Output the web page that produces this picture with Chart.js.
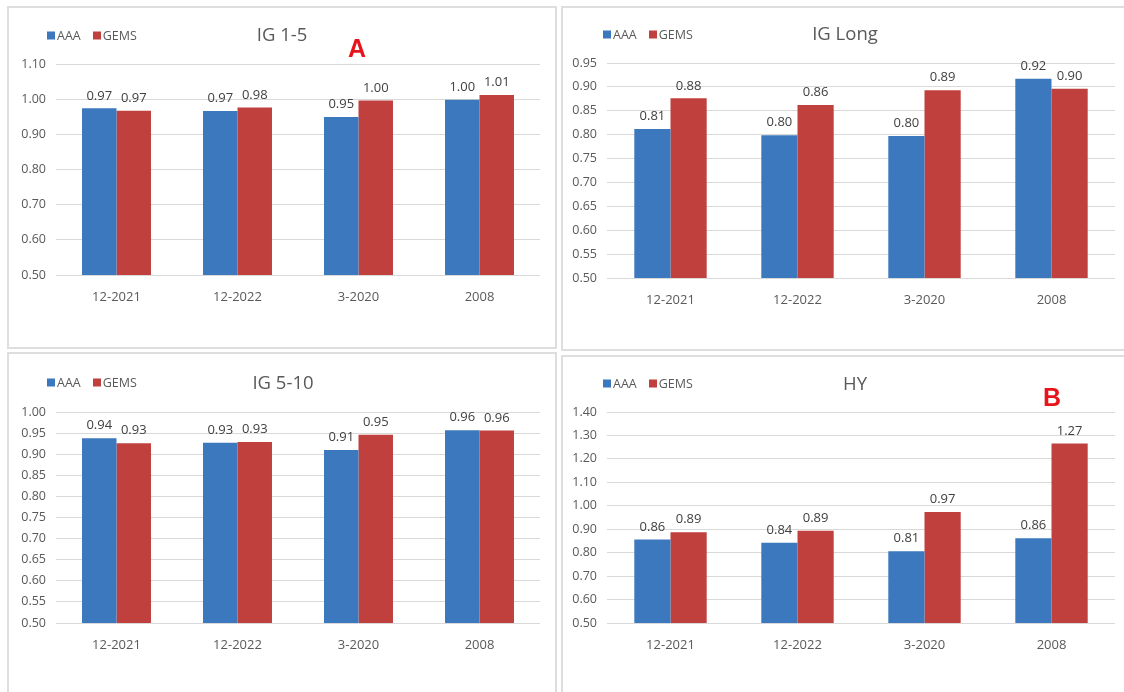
<!DOCTYPE html>
<html>
<head>
<meta charset="utf-8">
<script src="https://cdn.jsdelivr.net/npm/chart.js@4.4.1/dist/chart.umd.min.js"></script>
<style>
  html, body { margin: 0; padding: 0; background: #ffffff; }
  body { width: 1124px; height: 692px; position: relative; overflow: hidden; font-family: "Open Sans", "DejaVu Sans", sans-serif; }
  .panel { position: absolute; border: 2px solid #dedede; box-sizing: border-box; background: #fff; }
  .chart-canvas { position: absolute; }
  .title { position: absolute; font-size: 18.5px; color: #595959; transform: translate(-50%, -50%); white-space: nowrap; }
  .mark { position: absolute; font-size: 25px; font-weight: bold; color: #e8141c; transform: translate(-50%, -50%); font-family: "Liberation Sans", Arial, sans-serif; }
  .legend { position: absolute; font-size: 12.5px; color: #595959; display: flex; align-items: center; white-space: nowrap; transform: translateY(-50%); }
  .legend .sw { display: inline-block; width: 8px; height: 8px; margin-right: 2px; }
  .legend .item { display: inline-flex; align-items: center; margin-right: 12px; }
</style>
</head>
<body>

<div class="panel" style="left:7px; top:6px; width:550px; height:343px;"></div>
<div class="panel" style="left:561px; top:6px; width:570px; height:345px;"></div>
<div class="panel" style="left:7px; top:352px; width:550px; height:350px;"></div>
<div class="panel" style="left:561px; top:355px; width:570px; height:350px;"></div>

<canvas id="c1" class="chart-canvas"></canvas>
<canvas id="c2" class="chart-canvas"></canvas>
<canvas id="c3" class="chart-canvas"></canvas>
<canvas id="c4" class="chart-canvas"></canvas>

<div class="legend" style="left:47px; top:35px;"><span class="item"><span class="sw" style="background:#3b78bd"></span>AAA</span><span class="item"><span class="sw" style="background:#c0403e"></span>GEMS</span></div>
<div class="title" style="left:282px; top:33px;">IG 1-5</div>
<div class="mark" style="left:357px; top:48px;">A</div>

<div class="legend" style="left:603px; top:34px;"><span class="item"><span class="sw" style="background:#3b78bd"></span>AAA</span><span class="item"><span class="sw" style="background:#c0403e"></span>GEMS</span></div>
<div class="title" style="left:845px; top:32px;">IG Long</div>

<div class="legend" style="left:47px; top:382px;"><span class="item"><span class="sw" style="background:#3b78bd"></span>AAA</span><span class="item"><span class="sw" style="background:#c0403e"></span>GEMS</span></div>
<div class="title" style="left:283px; top:381px;">IG 5-10</div>

<div class="legend" style="left:603px; top:383px;"><span class="item"><span class="sw" style="background:#3b78bd"></span>AAA</span><span class="item"><span class="sw" style="background:#c0403e"></span>GEMS</span></div>
<div class="title" style="left:855px; top:382px;">HY</div>
<div class="mark" style="left:1052px; top:397px;">B</div>

<script>
// Periods shown on every panel
const categories = ['12-2021', '12-2022', '3-2020', '2008'];

// IG 1-5
const ig15Aaa  = [0.974, 0.966, 0.949, 0.998];
const ig15Gems = [0.967, 0.976, 0.996, 1.012];
const ig15Axis = [0.50, 1.10, 0.10];   // min, max, step

// IG Long
const igLongAaa  = [0.812, 0.799, 0.797, 0.917];
const igLongGems = [0.876, 0.862, 0.893, 0.896];
const igLongAxis = [0.50, 0.95, 0.05];

// IG 5-10
const ig510Aaa  = [0.938, 0.927, 0.910, 0.957];
const ig510Gems = [0.926, 0.929, 0.946, 0.956];
const ig510Axis = [0.50, 1.00, 0.05];

// HY
const hyAaa  = [0.856, 0.842, 0.806, 0.862];
const hyGems = [0.887, 0.893, 0.973, 1.266];
const hyAxis = [0.50, 1.40, 0.10];

const seriesNames = ['AAA', 'GEMS'];
const seriesColors = ['#3b78bd', '#c0403e'];

const FONT = '"Open Sans", "DejaVu Sans", sans-serif';
const PAD_L = 50, PAD_T = 25, PAD_R = 12, PAD_B = 30;

// Writes each bar's value just above it
const valueLabels = {
  id: 'valueLabels',
  afterDatasetsDraw(chart) {
    const ctx = chart.ctx;
    ctx.save();
    ctx.font = '13px ' + FONT;
    ctx.fillStyle = '#404040';
    ctx.textAlign = 'center';
    ctx.textBaseline = 'bottom';
    chart.data.datasets.forEach((ds, i) => {
      chart.getDatasetMeta(i).data.forEach((bar, j) => {
        ctx.fillText(ds.data[j].toFixed(2), bar.x, bar.y - 6);
      });
    });
    ctx.restore();
  }
};

function makeChart(id, plot, aaa, gems, axis) {
  const cv = document.getElementById(id);
  const w = (plot.r - plot.l) + PAD_L + PAD_R;
  const h = (plot.b - plot.t) + PAD_T + PAD_B;
  cv.width = w; cv.height = h;
  cv.style.left = (plot.l - PAD_L) + 'px';
  cv.style.top = (plot.t - PAD_T) + 'px';
  cv.style.width = w + 'px';
  cv.style.height = h + 'px';

  return new Chart(cv, {
    type: 'bar',
    data: {
      labels: categories,
      datasets: [aaa, gems].map((d, i) => ({
        label: seriesNames[i],
        data: d,
        backgroundColor: seriesColors[i],
        borderWidth: 0,
        categoryPercentage: 0.57,
        barPercentage: 1.0
      }))
    },
    options: {
      responsive: false,
      animation: false,
      devicePixelRatio: 1,
      layout: { padding: { top: PAD_T, right: PAD_R, left: 0, bottom: 0 } },
      plugins: { legend: { display: false }, title: { display: false }, tooltip: { enabled: false } },
      scales: {
        x: {
          grid: { display: false },
          border: { display: false },
          ticks: { color: '#595959', font: { family: FONT, size: 13 }, padding: 6, maxRotation: 0 },
          afterFit(s) { s.height = PAD_B; }
        },
        y: {
          min: axis[0], max: axis[1],
          grid: { color: '#d9d9d9', lineWidth: 1, drawTicks: false },
          border: { display: false },
          ticks: {
            stepSize: axis[2],
            color: '#595959',
            font: { family: FONT, size: 12.5 },
            padding: 10,
            callback: v => Number(v).toFixed(2)
          },
          afterFit(s) { s.width = PAD_L; }
        }
      }
    },
    plugins: [valueLabels]
  });
}

makeChart('c1', { l: 56, t: 64, r: 540, b: 275 }, ig15Aaa, ig15Gems, ig15Axis);
makeChart('c2', { l: 607, t: 63, r: 1115, b: 278 }, igLongAaa, igLongGems, igLongAxis);
makeChart('c3', { l: 56, t: 412, r: 540, b: 623 }, ig510Aaa, ig510Gems, ig510Axis);
makeChart('c4', { l: 607, t: 412, r: 1115, b: 623 }, hyAaa, hyGems, hyAxis);
</script>
</body>
</html>
